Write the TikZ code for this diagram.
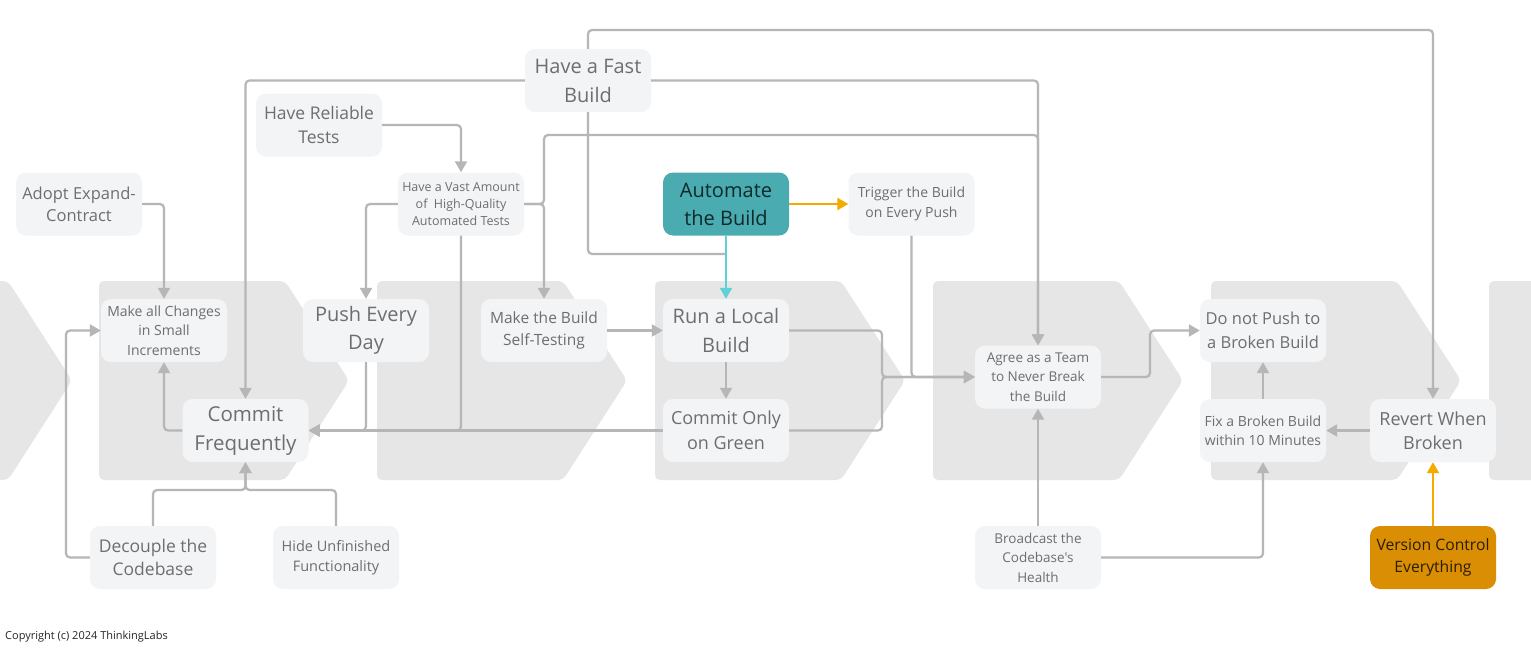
\documentclass[tikz,border=0pt]{standalone}
\usepackage{fontspec}
\setmainfont{Open Sans}[Ligatures=TeXOff]
\usetikzlibrary{arrows.meta}

\definecolor{stagegray}{HTML}{E6E6E6}
\definecolor{cardfill}{HTML}{F3F4F6}
\definecolor{cardtext}{HTML}{6E6E6E}
\definecolor{wiregray}{HTML}{B6B6B6}
\definecolor{tealfill}{HTML}{4AABB0}
\definecolor{tealwire}{HTML}{5DD0D8}
\definecolor{tealtext}{HTML}{0E2A2B}
\definecolor{amberfill}{HTML}{D98E04}
\definecolor{amberwire}{HTML}{F6AA00}
\definecolor{ambertext}{HTML}{2B1D00}

\newcommand\fsz[2]{\fontsize{#1}{#2}\selectfont}

\begin{document}
\begin{tikzpicture}[x=1pt,y=-1pt,
  stage/.style={fill=stagegray, rounded corners=5pt},
  card/.style={fill=cardfill, text=cardtext, rounded corners=10pt,
    minimum width=126pt, minimum height=63pt, inner sep=0pt, align=center},
  tealcard/.style={card, fill=tealfill, text=tealtext},
  ambercard/.style={card, fill=amberfill, text=ambertext},
  wire/.style={draw=wiregray, line width=2.2pt, rounded corners=4pt},
  flow/.style={wire, -{Triangle[length=11pt,width=12pt]}},
  tealflow/.style={flow, draw=tealwire},
  amberflow/.style={flow, draw=amberwire}
]
\clip (0,0) rectangle (1531,653);
\fill[white] (0,0) rectangle (1531,653);

% stage chevrons
\foreach \L in {-178,99,377,655,933,1211,1489}{
  \fill[stage] (\L,281) -- ++(186,0) -- ++(64,99.5) -- ++(-64,99.5) -- ++(-186,0) -- cycle;
}

% practice cards
\node[card, font=\fsz{20}{29}] (fast) at (588,80.5) {Have a Fast\\Build};
\node[card, font=\fsz{17.5}{24}] (reliable) at (319,125) {Have Reliable\\Tests};
\node[card, font=\fsz{12.5}{17}] (vast) at (461,204) {Have a Vast Amount\\of\ \ High-Quality\\Automated Tests};
\node[card, font=\fsz{16.5}{22}] (adopt) at (79,204) {Adopt Expand-\\Contract};
\node[tealcard, font=\fsz{20}{28}] (automate) at (726,204) {Automate\\the Build};
\node[card, font=\fsz{14}{20}] (trigger) at (911.5,204) {Trigger the Build\\on Every Push};
\node[card, font=\fsz{14}{19.5}] (small) at (164,330.5) {Make all Changes\\in Small\\Increments};
\node[card, font=\fsz{20}{28}] (push) at (366,330.5) {Push Every\\Day};
\node[card, font=\fsz{15.5}{21.5}] (selftest) at (544,330.5) {Make the Build\\Self-Testing};
\node[card, font=\fsz{20}{29}] (local) at (726,330.5) {Run a Local\\Build};
\node[card, font=\fsz{20.5}{29}] (commitfreq) at (245.5,430.5) {Commit\\Frequently};
\node[card, font=\fsz{18}{25}] (green) at (726,430.5) {Commit Only\\on Green};
\node[card, font=\fsz{13.5}{19.5}] (agree) at (1038,377) {Agree as a Team\\to Never Break\\the Build};
\node[card, font=\fsz{16.5}{23.5}] (nopush) at (1263,330.5) {Do not Push to\\a Broken Build};
\node[card, font=\fsz{14}{19.5}] (fix) at (1263,430.5) {Fix a Broken Build\\within 10 Minutes};
\node[card, font=\fsz{18}{24.5}] (revert) at (1433,430.5) {Revert When\\Broken};
\node[ambercard, font=\fsz{15.7}{22}] (vcs) at (1433,557.5) {Version Control\\Everything};
\node[card, font=\fsz{17.5}{23}] (decouple) at (153,557.5) {Decouple the\\Codebase};
\node[card, font=\fsz{14.5}{20}] (hide) at (336,557.5) {Hide Unfinished\\Functionality};
\node[card, font=\fsz{13.5}{19.5}] (broadcast) at (1038,557.5) {Broadcast the\\Codebase's\\Health};

\node[anchor=west, inner sep=0pt, text=black!85, font=\fsz{11}{13}] (copyright) at (5,637) {Copyright (c) 2024 ThinkingLabs};

% routing points
\coordinate (testsbus) at (544,135);
\coordinate (topbus) at (1433,30);
\coordinate (buildbus) at (726,254);
\coordinate (greenbus) at (882,377);
\coordinate (commitbus) at (245.5,490);
\coordinate (decouplebus) at (66,400);
\coordinate (agreebus) at (1150,350);

% connectors
\draw[flow] (reliable.east) -| (vast.north);
\draw[flow] (adopt.east) -| (small.north);
\draw[flow] (vast.west) -| (push.north);
\draw[flow] (vast.east) -| (selftest.north);
\draw[flow] (vast.east) -| (testsbus) -| (agree.north);
\draw[flow] (fast.west) -| (commitfreq.north);
\draw[flow] (fast.east) -| (agree.north);
\draw[flow] (fast.north) |- (topbus) -- (revert.north);
\draw[wire] (fast.south) |- (buildbus);
\draw[tealflow] (automate.south) -- (local.north);
\draw[amberflow] (automate.east) -- (trigger.west);
\draw[flow] (trigger.south) |- (agree.west);
\draw[flow] (local.east) -| (greenbus) -- (agree.west);
\draw[flow] (green.east) -| (greenbus) -- (agree.west);
\draw[flow] (local.south) -- (green.north);
\draw[flow] (selftest.east) -- (local.west);
\draw[flow] (green.west) -- (commitfreq.east);
\draw[flow] (push.south) |- (commitfreq.east);
\draw[flow] (vast.south) |- (commitfreq.east);
\draw[flow] (commitfreq.west) -| (small.south);
\draw[flow] (decouple.north) |- (commitbus) -- (commitfreq.south);
\draw[flow] (hide.north) |- (commitbus) -- (commitfreq.south);
\draw[flow] (decouple.west) -| (decouplebus) |- (small.west);
\draw[flow] (agree.east) -| (agreebus) |- (nopush.west);
\draw[flow] (broadcast.north) -- (agree.south);
\draw[flow] (broadcast.east) -| (fix.south);
\draw[flow] (fix.north) -- (nopush.south);
\draw[flow] (revert.west) -- (fix.east);
\draw[amberflow] (vcs.north) -- (revert.south);
\end{tikzpicture}
\end{document}
